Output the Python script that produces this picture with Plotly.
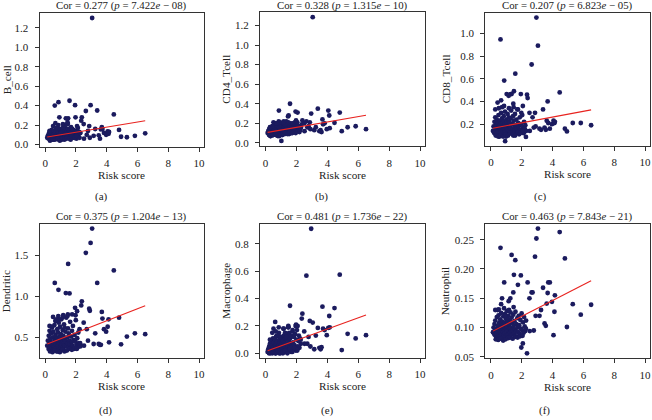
import plotly.graph_objects as go

# ---------------- data ----------------
# shared risk score per sample (dense cluster, moderate outliers, mid-range, tail)
risk_score = [
    0.13, 0.17, 0.22, 0.23, 0.27, 0.28, 0.32, 0.33, 0.36, 0.38,
    0.41, 0.44, 0.45, 0.48, 0.49, 0.52, 0.53, 0.56, 0.58, 0.60,
    0.61, 0.64, 0.66, 0.67, 0.70, 0.72, 0.73, 0.76, 0.78, 0.80,
    0.82, 0.83, 0.86, 0.88, 0.90, 0.91, 0.94, 0.96, 0.98, 1.00,
    1.02, 1.04, 1.05, 1.08, 1.10, 1.12, 1.13, 1.16, 1.18, 1.20,
    1.22, 1.24, 1.27, 1.29, 1.31, 1.34, 1.37, 1.39, 1.43, 1.45,
    1.48, 1.51, 1.52, 1.56, 1.59, 1.62, 1.65, 1.68, 1.71, 1.74,
    1.77, 1.80, 1.83, 1.87, 1.91, 1.95, 1.99, 2.03, 2.08, 2.12,
    2.15, 2.19, 2.23, 2.28, 0.31, 0.47, 0.63, 0.79, 0.95, 1.11,
    1.25, 1.41, 1.57, 1.73, 1.89, 2.05, 0.51, 0.85, 1.17, 1.47,
    0.62, 0.86, 1.58, 1.94, 1.49, 1.34, 0.92, 1.02, 1.26, 0.43,
    0.66, 1.15, 0.28, 0.72, 1.97, 2.07, 1.75, 1.45,
    3.05, 2.95, 2.64, 2.86, 2.38, 2.34, 2.27, 3.15, 2.78, 2.50,
    2.52, 2.70, 3.25, 2.90,
    3.38, 3.48, 3.56, 3.62, 3.68, 3.72, 3.82, 3.96, 4.06, 4.12,
    4.15, 4.46, 4.80, 4.93, 5.31, 5.83, 6.50,
]

b_cell = [
    0.07, 0.09, 0.06, 0.11, 0.08, 0.13, 0.07, 0.10, 0.05, 0.12,
    0.08, 0.06, 0.14, 0.09, 0.07, 0.11, 0.05, 0.10, 0.08, 0.13,
    0.06, 0.09, 0.12, 0.07, 0.15, 0.08, 0.10, 0.06, 0.11, 0.09,
    0.14, 0.07, 0.12, 0.05, 0.10, 0.08, 0.16, 0.06, 0.11, 0.09,
    0.13, 0.07, 0.10, 0.05, 0.12, 0.08, 0.15, 0.09, 0.06, 0.11,
    0.14, 0.07, 0.10, 0.17, 0.08, 0.12, 0.06, 0.13, 0.09, 0.11,
    0.16, 0.07, 0.10, 0.14, 0.08, 0.12, 0.05, 0.18, 0.09, 0.13,
    0.11, 0.07, 0.15, 0.10, 0.12, 0.08, 0.14, 0.06, 0.11, 0.17,
    0.09, 0.13, 0.07, 0.12, 0.04, 0.05, 0.05, 0.06, 0.04, 0.06,
    0.05, 0.07, 0.06, 0.08, 0.07, 0.09, 0.19, 0.20, 0.18, 0.21,
    0.40, 0.435, 0.45, 0.405, 0.27, 0.27, 0.28, 0.12, 0.20, 0.15,
    0.22, 0.21, 0.14, 0.17, 0.28, 0.19, 0.16, 0.23,
    1.30, 0.405, 0.345, 0.19, 0.28, 0.245, 0.12, 0.09, 0.14, 0.21,
    0.06, 0.10, 0.16, 0.07,
    0.35, 0.095, 0.06, 0.155, 0.18, 0.16, 0.12, 0.10, 0.135, 0.11,
    0.13, 0.31, 0.15, 0.08, 0.075, 0.09, 0.115,
]

cd4_tcell = [
    0.10, 0.12, 0.08, 0.14, 0.09, 0.11, 0.13, 0.07, 0.12, 0.10,
    0.15, 0.09, 0.11, 0.13, 0.08, 0.12, 0.16, 0.10, 0.14, 0.09,
    0.12, 0.17, 0.11, 0.08, 0.13, 0.15, 0.10, 0.12, 0.18, 0.09,
    0.14, 0.11, 0.16, 0.07, 0.13, 0.10, 0.19, 0.12, 0.15, 0.09,
    0.11, 0.17, 0.13, 0.08, 0.14, 0.20, 0.10, 0.12, 0.16, 0.11,
    0.15, 0.09, 0.13, 0.18, 0.10, 0.14, 0.12, 0.17, 0.11, 0.19,
    0.13, 0.15, 0.09, 0.16, 0.12, 0.20, 0.14, 0.10, 0.17, 0.13,
    0.11, 0.18, 0.15, 0.12, 0.16, 0.10, 0.14, 0.19, 0.12, 0.15,
    0.17, 0.11, 0.13, 0.16, 0.07, 0.08, 0.09, 0.07, 0.08, 0.09,
    0.10, 0.09, 0.11, 0.10, 0.21, 0.21, 0.21, 0.22, 0.22, 0.21,
    0.18, 0.33, 0.40, 0.32, 0.28, 0.22, 0.21, 0.02, 0.19, 0.17,
    0.20, 0.21, 0.16, 0.20, 0.23, 0.31, 0.20, 0.27,
    1.285, 0.30, 0.22, 0.21, 0.23, 0.19, 0.15, 0.13, 0.17, 0.20,
    0.12, 0.16, 0.16, 0.14,
    0.35, 0.12, 0.13, 0.11, 0.24, 0.19, 0.20, 0.14, 0.33, 0.28,
    0.15, 0.205, 0.31, 0.12, 0.16, 0.17, 0.14,
]

cd8_tcell = [
    0.14, 0.18, 0.12, 0.22, 0.15, 0.26, 0.11, 0.19, 0.13, 0.24,
    0.16, 0.10, 0.21, 0.14, 0.28, 0.12, 0.18, 0.09, 0.23, 0.15,
    0.20, 0.13, 0.30, 0.11, 0.17, 0.25, 0.14, 0.19, 0.10, 0.22,
    0.16, 0.27, 0.12, 0.20, 0.15, 0.31, 0.13, 0.18, 0.09, 0.24,
    0.17, 0.21, 0.12, 0.29, 0.15, 0.19, 0.11, 0.26, 0.14, 0.22,
    0.18, 0.13, 0.25, 0.16, 0.32, 0.12, 0.20, 0.15, 0.27, 0.10,
    0.23, 0.17, 0.14, 0.29, 0.19, 0.12, 0.24, 0.16, 0.33, 0.13,
    0.21, 0.18, 0.11, 0.26, 0.15, 0.20, 0.13, 0.28, 0.17, 0.12,
    0.22, 0.16, 0.19, 0.14, 0.10, 0.09, 0.10, 0.09, 0.11, 0.10,
    0.12, 0.11, 0.10, 0.13, 0.12, 0.14, 0.34, 0.36, 0.34, 0.35,
    0.947, 0.584, 0.645, 0.465, 0.49, 0.465, 0.05, 0.465, 0.465, 0.39,
    0.41, 0.45, 0.33, 0.35, 0.30, 0.36, 0.33, 0.38,
    0.892, 1.14, 0.726, 0.30, 0.43, 0.46, 0.087, 0.16, 0.17, 0.30,
    0.14, 0.26, 0.15, 0.18,
    0.33, 0.17, 0.15, 0.23, 0.40, 0.21, 0.16, 0.20, 0.23, 0.21,
    0.22, 0.48, 0.16, 0.136, 0.21, 0.21, 0.19,
]

dendritic = [
    0.40, 0.46, 0.36, 0.52, 0.42, 0.58, 0.38, 0.48, 0.34, 0.55,
    0.44, 0.37, 0.62, 0.41, 0.50, 0.35, 0.57, 0.43, 0.39, 0.65,
    0.47, 0.36, 0.53, 0.42, 0.70, 0.38, 0.49, 0.33, 0.60, 0.45,
    0.40, 0.56, 0.37, 0.68, 0.43, 0.51, 0.35, 0.63, 0.46, 0.39,
    0.54, 0.41, 0.72, 0.37, 0.48, 0.44, 0.59, 0.36, 0.52, 0.42,
    0.66, 0.40, 0.47, 0.34, 0.57, 0.45, 0.74, 0.39, 0.50, 0.43,
    0.61, 0.38, 0.55, 0.46, 0.42, 0.69, 0.37, 0.51, 0.44, 0.58,
    0.40, 0.64, 0.47, 0.36, 0.53, 0.45, 0.71, 0.41, 0.49, 0.38,
    0.56, 0.43, 0.60, 0.39, 0.33, 0.32, 0.34, 0.33, 0.32, 0.35,
    0.33, 0.34, 0.36, 0.35, 0.37, 0.36, 0.75, 0.76, 0.77, 0.78,
    1.163, 1.08, 1.035, 0.86, 1.395, 1.04, 0.72, 0.50, 0.62, 0.63,
    0.70, 0.75, 0.64, 0.72, 0.77, 0.82, 0.78, 0.76,
    1.825, 1.65, 1.53, 0.85, 0.94, 0.89, 0.43, 0.42, 0.46, 0.68,
    0.40, 0.60, 0.55, 0.825,
    1.163, 0.42, 0.41, 0.41, 0.81, 0.73, 0.60, 0.57, 0.63, 0.72,
    0.44, 1.315, 0.74, 0.416, 0.51, 0.55, 0.54,
]

macrophage = [
    0.01, 0.03, 0.00, 0.05, 0.02, 0.07, 0.01, 0.04, 0.09, 0.02,
    0.06, 0.00, 0.03, 0.11, 0.04, 0.01, 0.08, 0.05, 0.02, 0.10,
    0.03, 0.06, 0.00, 0.12, 0.04, 0.07, 0.02, 0.09, 0.05, 0.01,
    0.13, 0.03, 0.06, 0.00, 0.10, 0.04, 0.08, 0.02, 0.12, 0.05,
    0.01, 0.07, 0.11, 0.03, 0.06, 0.00, 0.09, 0.04, 0.13, 0.02,
    0.08, 0.05, 0.11, 0.01, 0.07, 0.14, 0.03, 0.10, 0.06, 0.12,
    0.02, 0.09, 0.15, 0.04, 0.11, 0.07, 0.01, 0.13, 0.05, 0.16,
    0.08, 0.03, 0.12, 0.06, 0.14, 0.02, 0.10, 0.17, 0.05, 0.09,
    0.13, 0.04, 0.11, 0.07, 0.00, 0.01, 0.00, 0.02, 0.00, 0.01,
    0.02, 0.00, 0.03, 0.01, 0.04, 0.02, 0.18, 0.19, 0.18, 0.20,
    0.23, 0.15, 0.348, 0.20, 0.19, 0.12, 0.12, 0.06, 0.15, 0.15,
    0.16, 0.18, 0.10, 0.13, 0.21, 0.20, 0.17, 0.19,
    0.225, 0.911, 0.568, 0.237, 0.29, 0.254, 0.10, 0.03, 0.12, 0.16,
    0.07, 0.07, 0.13, 0.05,
    0.186, 0.04, 0.03, 0.045, 0.341, 0.18, 0.17, 0.133, 0.186, 0.273,
    0.19, 0.331, 0.575, 0.024, 0.143, 0.109, 0.133,
]

neutrophil = [
    0.092, 0.100, 0.088, 0.106, 0.095, 0.112, 0.085, 0.098, 0.090, 0.118,
    0.094, 0.083, 0.103, 0.097, 0.121, 0.089, 0.108, 0.093, 0.086, 0.114,
    0.099, 0.091, 0.125, 0.087, 0.104, 0.096, 0.082, 0.110, 0.093, 0.119,
    0.101, 0.088, 0.107, 0.095, 0.123, 0.090, 0.099, 0.084, 0.115, 0.097,
    0.092, 0.128, 0.102, 0.087, 0.109, 0.095, 0.120, 0.089, 0.105, 0.098,
    0.113, 0.091, 0.126, 0.100, 0.094, 0.117, 0.088, 0.108, 0.096, 0.122,
    0.103, 0.090, 0.111, 0.097, 0.127, 0.093, 0.106, 0.085, 0.116, 0.100,
    0.092, 0.120, 0.104, 0.089, 0.113, 0.098, 0.124, 0.095, 0.109, 0.091,
    0.118, 0.102, 0.094, 0.112, 0.080, 0.079, 0.081, 0.078, 0.080, 0.082,
    0.083, 0.081, 0.084, 0.083, 0.085, 0.086, 0.131, 0.133, 0.130, 0.135,
    0.236, 0.177, 0.215, 0.189, 0.19, 0.224, 0.12, 0.11, 0.15, 0.13,
    0.14, 0.145, 0.13, 0.15, 0.066, 0.073, 0.173, 0.16,
    0.269, 0.252, 0.16, 0.221, 0.177, 0.056, 0.098, 0.12, 0.095, 0.15,
    0.094, 0.16, 0.13, 0.12,
    0.168, 0.107, 0.103, 0.141, 0.159, 0.177, 0.177, 0.144, 0.087, 0.127,
    0.155, 0.263, 0.218, 0.101, 0.14, 0.122, 0.139,
]

cell_names = ["B_cell", "CD4_Tcell", "CD8_Tcell", "Dendritic", "Macrophage", "Neutrophil"]
cor_values = ["0.277", "0.328", "0.207", "0.375", "0.481", "0.463"]
p_mantissa = ["7.422", "1.315", "6.823", "1.204", "1.736", "7.843"]
p_exponent = ["08", "10", "05", "13", "22", "21"]
fit_intercept = [0.0746, 0.1039, 0.1607, 0.4105, 0.0128, 0.0922]
fit_slope = [0.02606, 0.02756, 0.02536, 0.0732, 0.0411, 0.01349]
panel_letters = ["(a)", "(b)", "(c)", "(d)", "(e)", "(f)"]
x_ticks = [0, 2, 4, 6, 8, 10]
y_ticks = [
    [0.0, 0.2, 0.4, 0.6, 0.8, 1.0, 1.2],
    [0.0, 0.2, 0.4, 0.6, 0.8, 1.0, 1.2],
    [0.2, 0.4, 0.6, 0.8, 1.0],
    [0.5, 1.0, 1.5],
    [0.0, 0.2, 0.4, 0.6, 0.8],
    [0.05, 0.10, 0.15, 0.20, 0.25],
]
y_formats = [".1f", ".1f", ".1f", ".1f", ".1f", ".2f"]
series = [b_cell, cd4_tcell, cd8_tcell, dendritic, macrophage, neutrophil]

# ---------------- layout (pixels) ----------------
W, H = 652, 420
# box: left, right, top, bottom (px)
boxes = [
    (39.6, 204.1, 13.2, 148.0),
    (260.3, 425.5, 12.3, 147.8),
    (486.0, 650.8, 12.7, 147.5),
    (39.6, 204.1, 225.7, 361.5),
    (260.3, 425.5, 226.0, 361.7),
    (486.0, 650.8, 225.7, 361.8),
]
y_ranges = [
    [-0.0208, 1.3508],
    [-0.0358, 1.3358],
    [0.0064, 1.1836],
    [0.249, 1.886],
    [-0.036, 0.947],
    [0.0475, 0.2775],
]
x_range = [-0.37, 10.31]
ylabel_x = [6.5, 226.7, 446.7, 5.5, 226.0, 446.0]
letter_pos = [(101.7, 198.7), (322.3, 198.7), (541.7, 198.7),
              (106.0, 414.0), (328.3, 414.0), (545.0, 414.0)]

FONT = "Liberation Serif"
POINT = "#1b1b5e"
AXC = "#333333"

fig = go.Figure()
annotations = []

def px(x):
    return x / W

def py(y):
    return 1 - y / H

for i in range(6):
    l, r, t, b = boxes[i]
    xa = "xaxis" if i == 0 else f"xaxis{i+1}"
    ya = "yaxis" if i == 0 else f"yaxis{i+1}"
    xr = "x" if i == 0 else f"x{i+1}"
    yr = "y" if i == 0 else f"y{i+1}"
    fig.add_trace(go.Scatter(
        x=risk_score, y=series[i], mode="markers", xaxis=xr, yaxis=yr,
        marker=dict(size=4.8, color=POINT, line=dict(width=0)),
        showlegend=False, hoverinfo="skip"))
    x0, x1 = min(risk_score), max(risk_score)
    fig.add_trace(go.Scatter(
        x=[x0, x1],
        y=[fit_intercept[i] + fit_slope[i] * x0, fit_intercept[i] + fit_slope[i] * x1],
        mode="lines", xaxis=xr, yaxis=yr,
        line=dict(color="#e8231f", width=1.1),
        showlegend=False, hoverinfo="skip"))
    fig.update_layout(**{
        xa: dict(domain=[px(l), px(r)], range=x_range, anchor=yr,
                 tickvals=x_ticks, ticks="outside", ticklen=4, tickwidth=1,
                 tickcolor=AXC, showline=True, mirror=True, linecolor=AXC,
                 linewidth=1, showgrid=False, zeroline=False,
                 ticklabelstandoff=2, ticklabeloverflow="allow",
                 tickfont=dict(family=FONT, size=11, color="#222222")),
        ya: dict(domain=[py(b), py(t)], range=y_ranges[i], anchor=xr,
                 tickvals=y_ticks[i], tickformat=y_formats[i], ticks="outside",
                 ticklen=4, tickwidth=1, tickcolor=AXC, showline=True,
                 mirror=True, linecolor=AXC, linewidth=1, showgrid=False,
                 zeroline=False, ticklabelstandoff=4, ticklabeloverflow="allow",
                 tickfont=dict(family=FONT, size=11, color="#222222")),
    })
    cx = (l + r) / 2
    title_y = 5.6 if i < 3 else 218.3
    annotations.append(dict(
        x=px(cx), y=py(title_y), xref="paper", yref="paper",
        text=f"Cor = {cor_values[i]} (<i>p</i> = {p_mantissa[i]}<i>e</i> \u2212 {p_exponent[i]})",
        showarrow=False, xanchor="center", yanchor="middle",
        font=dict(family=FONT, size=10.8, color="#222222")))
    annotations.append(dict(
        x=px(cx), y=py(b + 28.5), xref="paper", yref="paper",
        text="Risk score", showarrow=False, xanchor="center", yanchor="middle",
        font=dict(family=FONT, size=11.2, color="#222222")))
    annotations.append(dict(
        x=px(ylabel_x[i]), y=py((t + b) / 2), xref="paper", yref="paper",
        text=cell_names[i], textangle=-90, showarrow=False,
        xanchor="center", yanchor="middle",
        font=dict(family=FONT, size=11.2, color="#222222")))
    lx, ly = letter_pos[i]
    annotations.append(dict(
        x=px(lx), y=py(ly), xref="paper", yref="paper",
        text=panel_letters[i], showarrow=False, xanchor="center", yanchor="middle",
        font=dict(family=FONT, size=11, color="#222222")))

fig.update_layout(
    width=W, height=H, margin=dict(l=0, r=0, t=0, b=0),
    paper_bgcolor="white", plot_bgcolor="white",
    annotations=annotations, showlegend=False,
)

fig.write_html(
    "out.html",
    config={"displayModeBar": False, "staticPlot": True},
    post_script="document.body.style.margin='0';document.body.style.overflow='hidden';",
)
